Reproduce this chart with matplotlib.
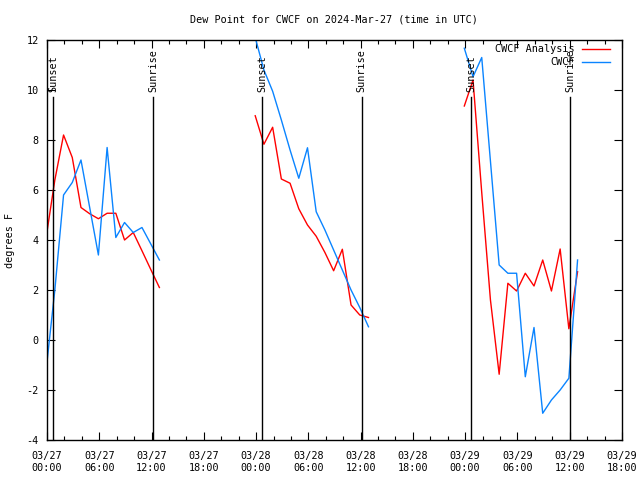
import numpy as np
import pandas as pd
import matplotlib
matplotlib.use("Agg")
import matplotlib.pyplot as plt
import matplotlib.dates as mdates

# hourly segments (obs at xx:54 UTC)
seg_starts = ["2024-03-26 23:54", "2024-03-27 23:54", "2024-03-28 23:54"]

analysis = [
    [4.1, 6.4, 8.2, 7.3, 5.3, 5.05, 4.85, 5.07, 5.07, 4.0, 4.3, 3.57, 2.83, 2.1],
    [8.97, 7.83, 8.51, 6.44, 6.27, 5.25, 4.6, 4.15, 3.5, 2.77, 3.63, 1.4, 1.0, 0.9],
    [9.36, 10.4, 5.9, 1.6, -1.37, 2.27, 1.96, 2.67, 2.16, 3.2, 1.96, 3.64, 0.45, 2.73],
]
obs = [
    [-1.2, 2.0, 5.8, 6.3, 7.2, 5.3, 3.4, 7.7, 4.1, 4.7, 4.3, 4.5, 3.85, 3.2],
    [12.1, 10.8, 9.95, 8.8, 7.6, 6.47, 7.69, 5.13, 4.4, 3.6, 2.8, 2.0, 1.3, 0.53],
    [11.67, 10.53, 11.3, 7.15, 3.0, 2.67, 2.67, -1.47, 0.5, -2.93, -2.4, -2.0, -1.53, 3.2],
]

sun_times = ["2024-03-27 00:41", "2024-03-27 12:10", "2024-03-28 00:42",
             "2024-03-28 12:08", "2024-03-29 00:43", "2024-03-29 12:05"]
sun_labels = ["Sunset", "Sunrise", "Sunset", "Sunrise", "Sunset", "Sunrise"]

mono = "DejaVu Sans Mono"
fs = 7.3

fig = plt.figure(figsize=(6.4, 4.8), dpi=100)
ax = fig.add_axes([47/640, 40/480, 575/640, 400/480])

for start, a, o in zip(seg_starts, analysis, obs):
    t = pd.date_range(start, periods=len(a), freq="h")
    ax.plot(t, a, color="#ff0000", lw=1.0)
    ax.plot(t, o, color="#0a84ff", lw=1.0)

for st, lab in zip(sun_times, sun_labels):
    ts = pd.Timestamp(st)
    ax.plot([ts, ts], [-4, 9.7], color="black", lw=1.0)
    ax.text(ts, 9.92, lab, rotation=90, ha="center", va="bottom",
            family=mono, fontsize=fs)

ax.set_xlim(pd.Timestamp("2024-03-27 00:00"), pd.Timestamp("2024-03-29 18:00"))
ax.set_ylim(-4, 12)
ax.set_yticks(np.arange(-4, 13, 2))
ax.set_yticklabels([str(v) for v in range(-4, 13, 2)])
ax.xaxis.set_major_locator(mdates.HourLocator(byhour=[0, 6, 12, 18]))
ax.xaxis.set_minor_locator(mdates.HourLocator(byhour=range(0, 24, 2)))
ax.xaxis.set_major_formatter(mdates.DateFormatter("%m/%d\n%H:%M"))
ax.tick_params(which="both", direction="in", top=True, right=True,
               labelsize=fs, width=0.8)
ax.tick_params(which="major", length=6, pad=6)
ax.tick_params(axis="x", which="major", pad=8)
ax.tick_params(which="minor", length=3)
for lbl in ax.get_xticklabels() + ax.get_yticklabels():
    lbl.set_family(mono)
for s in ax.spines.values():
    s.set_linewidth(1.0)

# legend
ax.text(0.918, 0.977, "CWCF Analysis", transform=ax.transAxes, ha="right",
        va="center", family=mono, fontsize=fs)
ax.plot([0.930, 0.979], [0.977, 0.977], transform=ax.transAxes, color="#ff0000", lw=1.0)
ax.text(0.918, 0.944, "CWCF", transform=ax.transAxes, ha="right",
        va="center", family=mono, fontsize=fs)
ax.plot([0.930, 0.979], [0.944, 0.944], transform=ax.transAxes, color="#0a84ff", lw=1.0)

fig.text(334/640, 1 - 20/480, "Dew Point for CWCF on 2024-Mar-27 (time in UTC)",
         ha="center", va="center", family=mono, fontsize=fs)
fig.text(10/640, 240/480, "degrees F", rotation=90, ha="center", va="center",
         family=mono, fontsize=fs)

fig.savefig("out.png", dpi=100)
